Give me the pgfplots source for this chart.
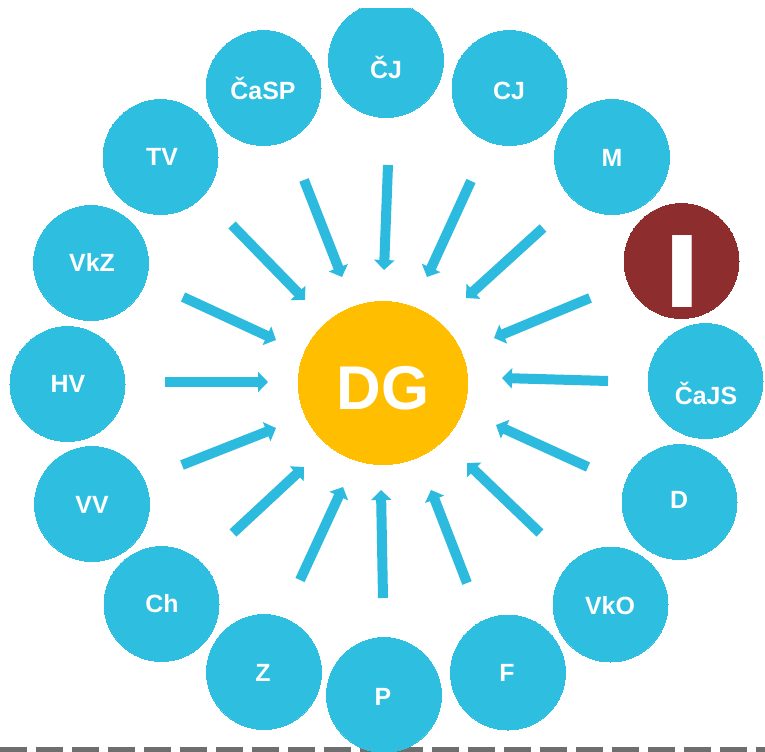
\documentclass[border=0pt]{standalone}
\usepackage{fontspec}
\setmainfont{Liberation Sans}
\usepackage{pgfplots}
\pgfplotsset{compat=1.18}
\usetikzlibrary{arrows.meta}
\definecolor{cyanc}{RGB}{46,190,224}
\definecolor{arrowc}{RGB}{44,186,222}
\definecolor{redc}{RGB}{142,45,45}
\definecolor{dgc}{RGB}{255,190,0}
\definecolor{dashc}{RGB}{110,110,110}
\begin{document}
\begin{tikzpicture}
\begin{axis}[name=ax, x=1bp, y=1bp, y dir=reverse,
  xmin=0, xmax=765, ymin=9, ymax=752, hide axis, clip=true, clip marker paths=true]
% dashed baseline
\addplot[dashc, line width=5bp, dash pattern=on 27bp off 9bp] coordinates {(0,749.5) (765,749.5)};
% outer circles
\addplot[cyanc, only marks, mark=*, mark size=57.5bp, mark options={solid, draw=cyanc, fill=cyanc, line width=0pt}] coordinates {
(386,60) (509.5,88) (612,157) (705.5,381) (679.5,502) (610.5,604.5) (508,672.5)
(384,695) (264,672) (161.5,604) (92,504) (67.5,384) (91,263) (160.5,157) (263.5,88)};
\addplot[redc, only marks, mark=*, mark size=57.5bp, mark options={solid, draw=redc, fill=redc, line width=0pt}] coordinates {(681.5,261)};
\addplot[dgc, only marks, mark=*, mark size=81.5bp, mark options={solid, draw=dgc, fill=dgc, line width=0pt, xscale=1.04}] coordinates {(383,383)};
% arrows
\addplot[arrowc, line width=10bp, -{Triangle[width=20bp,length=10bp]},
  quiver={u=\thisrow{u}, v=\thisrow{v}}] table {
x y u v
388 165 -4 105
471 181 -44 96
543 228 -77 70
590 298 -96 40
608 381 -106 -3
588 467 -92 -42
540 533 -73 -70
467 583 -36 -93
383 598 -2 -108
300 580 43 -93
233 533 71 -66
182 465 94 -37
165 382 103 0
183 297 93 43
232 225 73 75
304 180 38 97
};
% labels
\addplot[only marks, mark=none, nodes near coords, point meta=explicit symbolic,
  nodes near coords style={anchor=center, inner sep=0pt, text=white,
  font=\fontsize{25}{25}\selectfont\bfseries, text height=17.9bp, text depth=0pt}]
  table[meta=label] {
x y label
386 70 ČJ
509 91 CJ
612 158 M
706 396 ČaJS
679 500 D
610 606 VkO
507 673 F
383 697 P
263 673 Z
162 604 Ch
92 505 VV
68 384 HV
92 263 VkZ
162 157 TV
263 91 ČaSP
};
\addplot[only marks, mark=none, nodes near coords={\scalebox{1.3}[1]{I}},
  nodes near coords style={anchor=center, inner sep=0pt, text=white,
  font=\fontsize{105}{105}\selectfont\bfseries, text height=75bp, text depth=0pt}]
  coordinates {(682,269.5)};
\addplot[only marks, mark=none, nodes near coords={DG},
  nodes near coords style={anchor=center, inner sep=0pt, text=white,
  font=\fontsize{62}{62}\selectfont\bfseries, text height=44.4bp, text depth=0pt}]
  coordinates {(383,387)};
\end{axis}
\pgfresetboundingbox
\path (ax.south west) rectangle ([yshift=9bp]ax.north east);
\end{tikzpicture}
\end{document}
